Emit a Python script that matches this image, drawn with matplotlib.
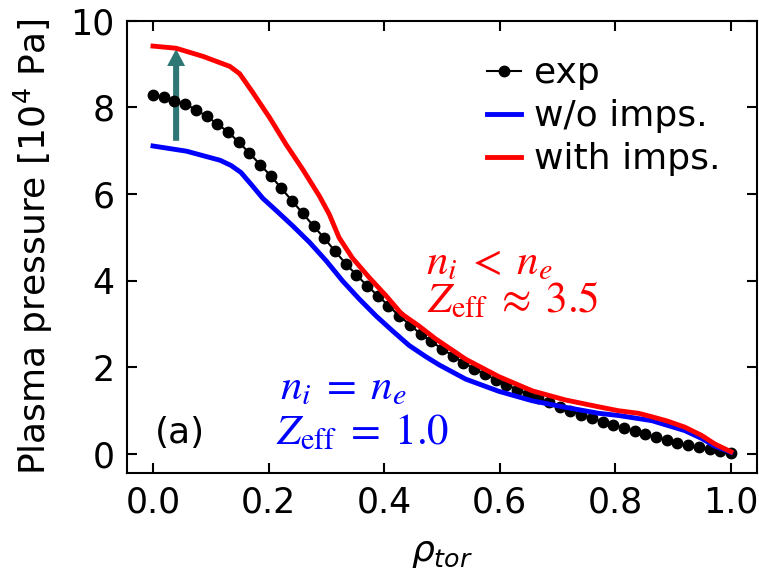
import numpy as np
import matplotlib
matplotlib.use("Agg")
import matplotlib.pyplot as plt

# -------------------------
# Data
# -------------------------
rho_exp = np.linspace(0.0, 1.0, 55)
p_exp = [8.28, 8.24, 8.16, 8.08, 7.95, 7.80, 7.62, 7.44, 7.20, 6.95,
         6.68, 6.42, 6.13, 5.84, 5.55, 5.26, 4.98, 4.68, 4.39, 4.13,
         3.88, 3.65, 3.42, 3.18, 2.98, 2.76, 2.59, 2.42, 2.26, 2.10,
         1.96, 1.83, 1.71, 1.59, 1.48, 1.38, 1.28, 1.18, 1.08, 0.99,
         0.90, 0.82, 0.73, 0.66, 0.59, 0.52, 0.45, 0.38, 0.31, 0.25,
         0.19, 0.15, 0.11, 0.06, 0.02]

rho_with = [0.0, 0.04, 0.087, 0.133, 0.15, 0.173, 0.202, 0.23, 0.259, 0.288,
            0.305, 0.322, 0.345, 0.374, 0.403, 0.43, 0.46, 0.489, 0.541, 0.598,
            0.656, 0.713, 0.771, 0.805, 0.84, 0.863, 0.89, 0.92, 0.949, 0.972, 1.0]
p_with = [9.42, 9.37, 9.18, 8.95, 8.78, 8.34, 7.76, 7.15, 6.57, 5.95,
          5.53, 4.99, 4.52, 4.07, 3.65, 3.23, 2.95, 2.65, 2.18, 1.78,
          1.45, 1.24, 1.08, 0.99, 0.93, 0.85, 0.75, 0.61, 0.42, 0.22, 0.04]

rho_wo = [0.0, 0.058, 0.116, 0.135, 0.152, 0.17, 0.19, 0.213, 0.242, 0.271,
          0.30, 0.328, 0.357, 0.386, 0.414, 0.443, 0.472, 0.495, 0.541, 0.598,
          0.656, 0.713, 0.771, 0.805, 0.863, 0.92, 0.949, 0.972, 1.0]
p_wo = [7.11, 6.99, 6.78, 6.66, 6.50, 6.22, 5.90, 5.62, 5.26, 4.88,
        4.45, 3.99, 3.57, 3.18, 2.84, 2.50, 2.24, 2.05, 1.72, 1.44,
        1.22, 1.07, 0.93, 0.88, 0.76, 0.53, 0.35, 0.17, 0.03]

xticks = [0.0, 0.2, 0.4, 0.6, 0.8, 1.0]
yticks = [0, 2, 4, 6, 8, 10]

# arrow showing the increase from w/o to with impurities
arrow_x, arrow_y0, arrow_y1 = 0.04, 7.23, 9.35

# -------------------------
# Plot
# -------------------------
plt.rcParams['mathtext.fontset'] = 'dejavusans'

fig = plt.figure(figsize=(7.59, 5.72), dpi=100)
ax = fig.add_axes([0.1673, 0.1731, 0.8301, 0.7902])

ax.plot(rho_exp, p_exp, color='black', lw=1.5, marker='o', ms=7.5, label='exp')
ax.plot(rho_wo, p_wo, color='blue', lw=3.5, label='w/o imps.')
ax.plot(rho_with, p_with, color='red', lw=3.5, label='with imps.')

ax.arrow(arrow_x, arrow_y0, 0, arrow_y1 - arrow_y0, width=0.0105, head_width=0.031,
         head_length=0.39, length_includes_head=True, color='#2e7774', lw=0)

serif = dict(math_fontfamily='stix', fontsize=31)
ax.text(0.472, 4.43, r'$n_i\;<\;n_e$', color='red', va='center', ha='left', **serif)
ax.text(0.474, 3.55, r'$Z_\mathrm{eff}\;\approx\;3.5$', color='red', va='center', ha='left', **serif)
ax.text(0.22, 1.52, r'$n_i\;=\;n_e$', color='blue', va='center', ha='left', **serif)
ax.text(0.212, 0.50, r'$Z_\mathrm{eff}\;=\;1.0$', color='blue', va='center', ha='left', **serif)

ax.text(0.047, 0.48, '(a)', fontsize=26, ha='center', va='center')

ax.set_xlim(-0.045, 1.045)
ax.set_ylim(-0.45, 10)
ax.set_xticks(xticks)
ax.set_yticks(yticks)
ax.set_xticklabels([f'{t:.1f}' for t in xticks])
ax.tick_params(direction='in', top=True, right=True, length=7, width=1.5,
               labelsize=25, pad=9)
for s in ax.spines.values():
    s.set_linewidth(1.5)

ax.set_xlabel(r'$\rho_{tor}$', fontsize=26, labelpad=12)
ax.set_ylabel(r'Plasma pressure [$10^4$ Pa]', fontsize=26, labelpad=11)

ax.legend(loc='upper left', bbox_to_anchor=(0.571, 0.922), frameon=False,
          fontsize=26, handlelength=0.95, handletextpad=0.35, labelspacing=0.25,
          borderpad=0, borderaxespad=0, numpoints=1)

fig.savefig('out.png', dpi=100)
